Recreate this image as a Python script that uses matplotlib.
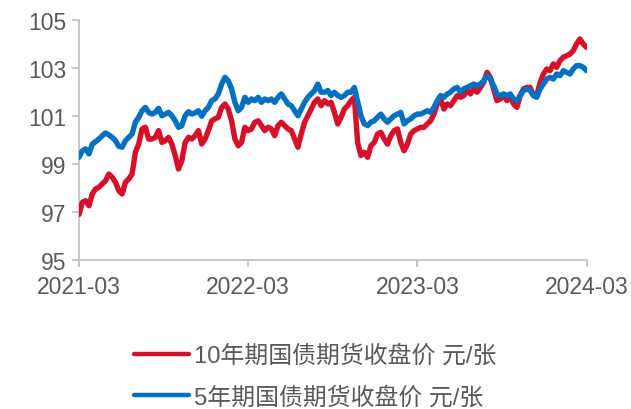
import numpy as np
import pandas as pd
import matplotlib
matplotlib.use("Agg")
import matplotlib.pyplot as plt
import matplotlib.dates as mdates

# 国债期货收盘价（元/张）
price_10y = [
    96.90, 97.40, 97.47, 97.26, 97.75, 97.96, 98.03, 98.17, 98.30, 98.58,
    98.45, 98.24, 97.89, 97.75, 98.24, 98.38, 98.58, 99.49, 99.83, 100.46,
    100.53, 100.04, 100.04, 100.11, 100.39, 99.90, 99.97, 100.11, 99.83, 99.35,
    98.79, 99.14, 99.90, 100.11, 100.04, 100.18, 100.39, 99.83, 100.04, 100.39,
    100.80, 100.88, 100.95, 101.36, 101.50, 101.29, 100.80, 100.04, 99.76, 99.90,
    100.53, 100.39, 100.46, 100.74,
    100.80, 100.60, 100.39, 100.53, 100.46, 100.18, 100.60, 100.74, 100.60, 100.46,
    100.39, 100.04, 99.70, 100.25, 100.74, 101.01, 101.29, 101.57, 101.71, 101.43,
    101.64, 101.50, 101.57, 101.15, 100.67, 100.95, 101.29, 101.43, 101.64, 101.78,
    99.90, 99.35, 99.49, 99.28, 99.76, 99.90, 100.25, 100.32, 100.04, 99.83,
    100.18, 100.39, 100.46, 99.90, 99.55, 99.83, 100.25, 100.39, 100.46, 100.53,
    100.53, 100.67, 100.80, 101.08, 101.50, 101.71, 101.29, 101.50, 101.43, 101.64,
    101.85, 101.78, 101.85, 102.06, 101.92, 102.13, 101.99, 102.19, 102.40, 102.82,
    102.61, 102.13, 101.64, 101.71, 101.85, 101.64, 101.78, 101.50, 101.36, 101.85,
    102.13, 102.19, 102.19, 101.85, 101.85, 102.40, 102.75, 102.96, 102.89, 103.17,
    103.03, 103.31, 103.45, 103.51, 103.58, 103.72, 104.00, 104.21, 104.00, 103.86,
]

price_5y = [
    99.28, 99.55, 99.63, 99.42, 99.83, 99.93, 100.04, 100.18, 100.29, 100.21,
    100.11, 99.97, 99.74, 99.70, 99.97, 100.11, 100.25, 100.74, 100.95, 101.22,
    101.36, 101.15, 101.08, 101.15, 101.32, 101.01, 101.08, 101.15, 101.01, 100.80,
    100.53, 100.60, 101.01, 101.18, 101.08, 101.13, 101.22, 100.99, 101.22, 101.36,
    101.64, 101.71, 101.92, 102.33, 102.61, 102.47, 102.13, 101.57, 101.22, 101.36,
    101.78, 101.57, 101.71, 101.64,
    101.78, 101.57, 101.71, 101.64, 101.71, 101.57, 101.78, 101.92, 101.71, 101.50,
    101.43, 101.22, 101.01, 101.29, 101.57, 101.78, 101.92, 102.06, 102.33, 101.99,
    101.99, 102.06, 101.85, 101.99, 101.85, 101.78, 101.85, 101.99, 101.99, 102.19,
    101.60, 101.01, 100.67, 100.60, 100.74, 100.80, 100.95, 101.08, 100.88, 100.74,
    100.88, 101.01, 101.08, 101.15, 100.67, 100.80, 100.88, 101.01, 101.08, 101.08,
    101.15, 101.22, 101.15, 101.36, 101.64, 101.85, 101.78, 101.92, 101.99, 102.13,
    102.19, 101.99, 102.13, 102.19, 102.26, 102.33, 102.26, 102.33, 102.47, 102.68,
    102.54, 102.26, 101.92, 101.85, 101.92, 101.85, 101.92, 101.71, 101.64, 101.85,
    102.06, 102.13, 102.06, 101.85, 101.78, 102.13, 102.33, 102.54, 102.61, 102.54,
    102.75, 102.68, 102.89, 102.82, 102.75, 102.96, 103.10, 103.10, 103.03, 102.89,
]

dates = pd.date_range("2021-03-01", "2024-02-29", periods=len(price_10y))

y_ticks = [95, 97, 99, 101, 103, 105]
x_ticks = ["2021-03-01", "2022-03-01", "2023-03-01", "2024-03-01"]

label_10y = "10年期国债期货收盘价 元/张"
label_5y = "5年期国债期货收盘价 元/张"

plt.rcParams["font.family"] = ["Liberation Sans", "Noto Sans CJK SC", "DejaVu Sans"]

grey = "#595959"
spine = "#BFBFBF"

fig = plt.figure(figsize=(6.31, 4.10), dpi=100)
ax = fig.add_axes([79 / 631, 1 - 261 / 410, (587 - 79) / 631, 240 / 410])

ax.plot(dates, price_10y, color="#D7102A", lw=3.9, solid_capstyle="round",
        solid_joinstyle="round", label=label_10y, zorder=3)
ax.plot(dates, price_5y, color="#0070C0", lw=3.9, solid_capstyle="round",
        solid_joinstyle="round", label=label_5y, zorder=4)

ax.set_ylim(95, 105)
ax.set_yticks(y_ticks)
ax.set_xlim(pd.Timestamp(x_ticks[0]), pd.Timestamp(x_ticks[-1]))
ax.set_xticks([pd.Timestamp(t) for t in x_ticks])
ax.xaxis.set_major_formatter(mdates.DateFormatter("%Y-%m"))

for s in ["top", "right"]:
    ax.spines[s].set_visible(False)
for s in ["left", "bottom"]:
    ax.spines[s].set_color(spine)
    ax.spines[s].set_linewidth(1.2)

ax.tick_params(axis="both", colors=spine, labelcolor=grey, labelsize=16.5,
               length=5, width=1.2)
ax.tick_params(axis="x", pad=6)
ax.tick_params(axis="y", pad=4)

# legend below the plot, one entry per row
leg = fig.legend(loc="center", bbox_to_anchor=(0.5, 1 - 377.5 / 410), ncol=1,
                 frameon=False, fontsize=17.2, labelcolor=grey,
                 handlelength=2.3, handletextpad=0.22, labelspacing=0.8)
for line in leg.get_lines():
    line.set_linewidth(3.2)

fig.savefig("out.png", dpi=100)
